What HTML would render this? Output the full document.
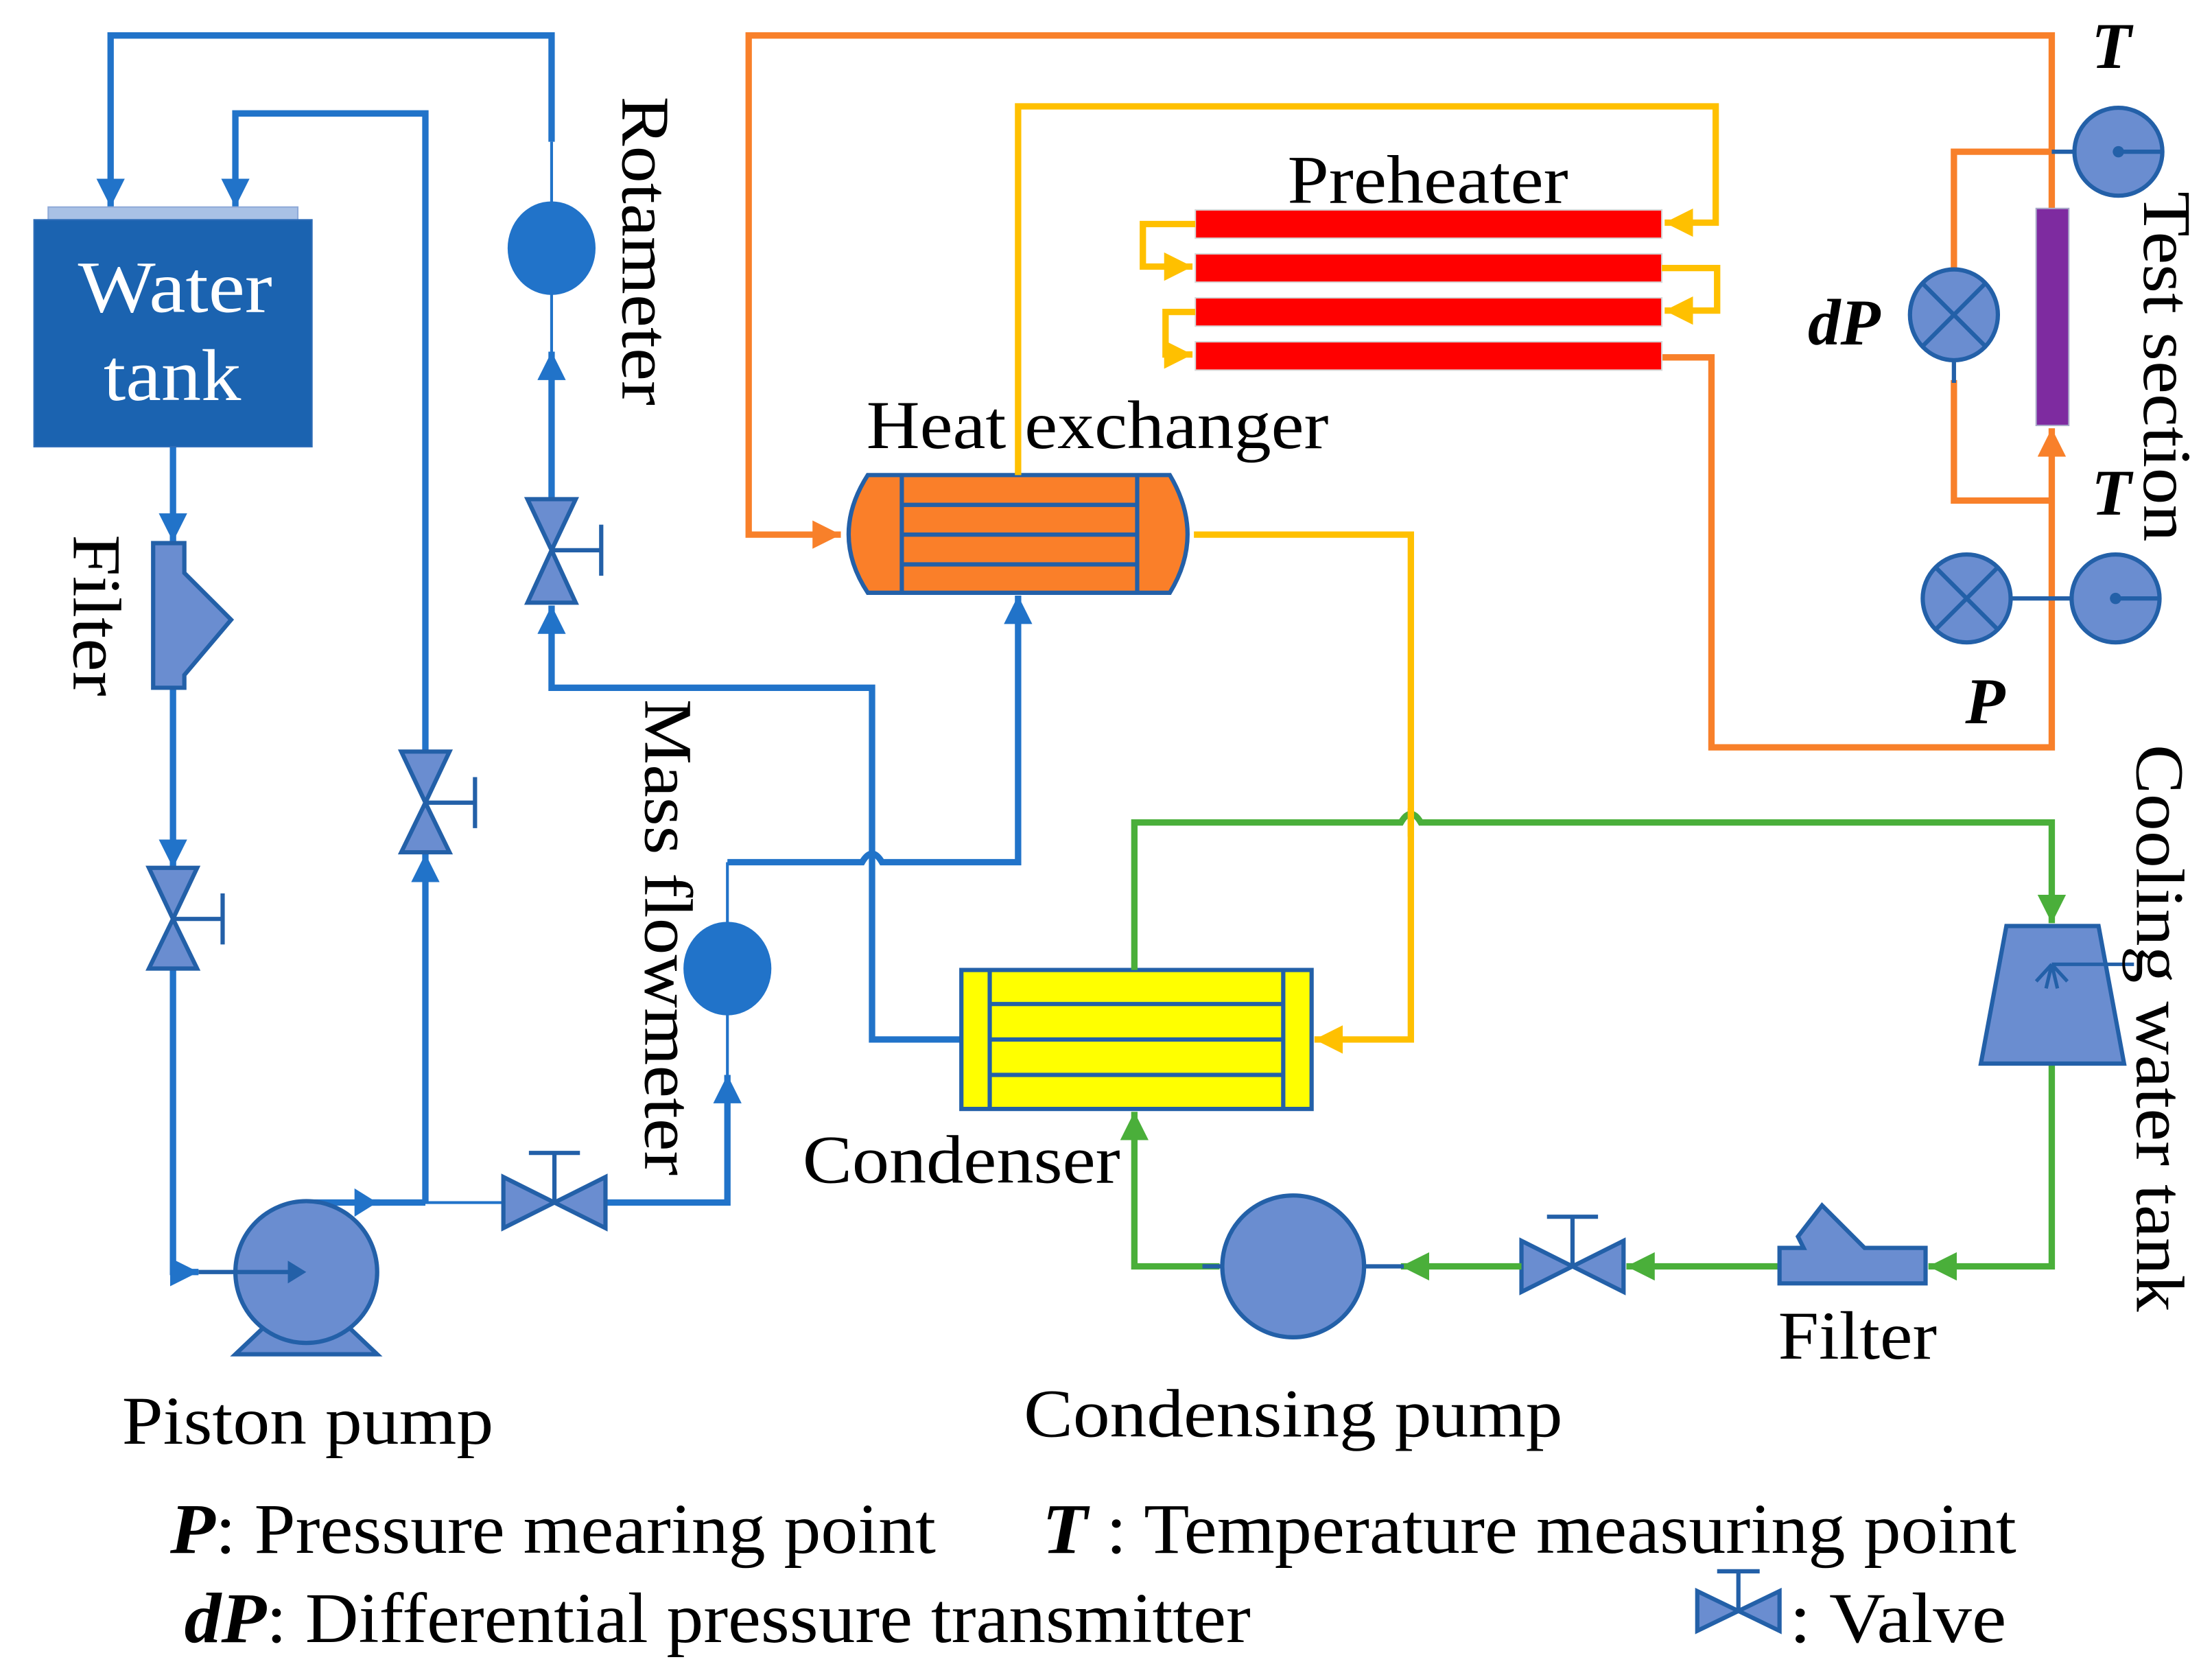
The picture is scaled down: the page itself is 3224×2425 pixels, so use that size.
<!DOCTYPE html>
<html><head><meta charset="utf-8"><style>
html,body{margin:0;padding:0;background:#fff;}
svg{display:block;}
text{font-family:"Liberation Serif",serif;fill:#000;}
</style></head><body>
<svg width="3224" height="2425" viewBox="0 0 1560 1173.4" xmlns="http://www.w3.org/2000/svg">
<defs>
<marker id="aB" markerUnits="userSpaceOnUse" markerWidth="24" markerHeight="24" refX="20" refY="10" orient="auto"><path d="M0,0 L20,10 L0,20 Z" fill="#2173C9"/></marker>
<marker id="aO" markerUnits="userSpaceOnUse" markerWidth="24" markerHeight="24" refX="20" refY="10" orient="auto"><path d="M0,0 L20,10 L0,20 Z" fill="#F8802A"/></marker>
<marker id="aY" markerUnits="userSpaceOnUse" markerWidth="24" markerHeight="24" refX="20" refY="10" orient="auto"><path d="M0,0 L20,10 L0,20 Z" fill="#FFC000"/></marker>
<marker id="aG" markerUnits="userSpaceOnUse" markerWidth="24" markerHeight="24" refX="20" refY="10" orient="auto"><path d="M0,0 L20,10 L0,20 Z" fill="#4AAF3A"/></marker>
</defs>

<g fill="none" stroke="#2173C9" stroke-width="4.5" stroke-linejoin="miter">
<path d="M389,100 L389,25 L78,25 L78,146" marker-end="url(#aB)"/>
<path d="M300,530 L300,80 L166,80 L166,146" marker-end="url(#aB)"/>
<path d="M122,315 L122,382" marker-end="url(#aB)"/>
<path d="M122,485 L122,612" marker-end="url(#aB)"/>
<path d="M122,683 L122,897 L140,897" marker-end="url(#aB)"/>
<path d="M300,848 L300,602" marker-end="url(#aB)"/>
<path d="M216,848 L268,848"/>
<path d="M262,848 L300,848"/>
<path d="M427,848 L513,848 L513,758" marker-end="url(#aB)"/>
<path d="M513,608 L608,608 Q615,596 622,608 L718,608 L718,420" marker-end="url(#aB)"/>
<path d="M389,352 L389,248" marker-end="url(#aB)"/>
<path d="M678,733 L615,733 L615,485 L389,485 L389,427" marker-end="url(#aB)"/>
</g>
<g fill="none" stroke="#2173C9" stroke-width="2">
<path d="M389,100 L389,145"/><path d="M389,205 L389,250"/>
<path d="M300,848 L355,848"/>
<path d="M513,608 L513,652"/><path d="M513,714 L513,760"/>
</g>
<path d="M250,838 L266,848 L250,858 Z" fill="#2173C9"/>

<rect x="34" y="146" width="176" height="10" fill="#A9C1E5" stroke="#8FAAD8" stroke-width="1"/>
<rect x="24" y="155" width="196" height="160" fill="#1B63B0" stroke="#2E6DB8" stroke-width="1"/>
<text x="55" y="220" font-size="52" textLength="137" lengthAdjust="spacingAndGlyphs" style="fill:#fff">Water</text>
<text x="73" y="282" font-size="52" textLength="97" lengthAdjust="spacingAndGlyphs" style="fill:#fff">tank</text>

<path d="M108,383 L130,383 L130,404 L163,437 L130,476 L130,485 L108,485 Z" fill="#6A8DD0" stroke="#2360A8" stroke-width="3"/>

<g fill="#6A8DD0" stroke="#2360A8" stroke-width="3" stroke-linejoin="miter">
<path d="M105,612 L139,612 L122,648 Z M105,683 L139,683 L122,648 Z"/>
<path d="M283,530 L317,530 L300,566 Z M283,601 L317,601 L300,566 Z"/>
<path d="M372,352 L406,352 L389,388 Z M372,425 L406,425 L389,388 Z"/>
<path d="M355,830 L355,866 L391,848 Z M427,830 L427,866 L391,848 Z"/>
<path d="M1073,875 L1073,911 L1109,893 Z M1145,875 L1145,911 L1109,893 Z"/>
</g>
<g fill="none" stroke="#2360A8" stroke-width="3">
<path d="M122,648 L157,648 M157,630 L157,666"/>
<path d="M300,566 L335,566 M335,548 L335,584"/>
<path d="M389,388 L424,388 M424,370 L424,406"/>
<path d="M391,848 L391,813 M373,813 L409,813"/>
<path d="M1109,893 L1109,858 M1091,858 L1127,858"/>
</g>

<ellipse cx="389" cy="175" rx="31" ry="33" fill="#2173C9"/>
<ellipse cx="513" cy="683" rx="31" ry="33" fill="#2173C9"/>

<path d="M166,955 L186,936 L246,936 L266,955 Z" fill="#6A8DD0" stroke="#2360A8" stroke-width="3"/>
<ellipse cx="216" cy="897" rx="50" ry="50" fill="#6A8DD0" stroke="#2360A8" stroke-width="3"/>
<path d="M140,897 L208,897" stroke="#2360A8" stroke-width="3"/>
<path d="M203,889 L216,897 L203,905 Z" fill="#2360A8"/>

<g fill="none" stroke="#F8802A" stroke-width="4.5">
<path d="M1447,147 L1447,25 L528,25 L528,377 L593,377" marker-end="url(#aO)"/>
<path d="M1172,252 L1207,252 L1207,527 L1447,527 L1447,302" marker-end="url(#aO)"/>
<path d="M1378,190 L1378,107 L1447,107"/>
<path d="M1378,268 L1378,353 L1447,353"/>
</g>
<path d="M1378,254 L1378,270" stroke="#2360A8" stroke-width="3"/>
<rect x="1436" y="147" width="23" height="153" fill="#7E2BA0" stroke="#A9A9C9" stroke-width="1"/>

<path d="M612,335 L825,335 Q850,377 825,418 L612,418 Q585,377 612,335 Z" fill="#FA7F29" stroke="#2360A8" stroke-width="3"/>
<g stroke="#2360A8" stroke-width="3" fill="none">
<path d="M636,335 L636,418 M802,335 L802,418 M636,356 L802,356 M636,377 L802,377 M636,398 L802,398"/>
</g>

<g fill="#FF0000" stroke="#D8D8D8" stroke-width="1">
<rect x="843" y="148" width="329" height="20"/>
<rect x="843" y="179" width="329" height="20"/>
<rect x="843" y="210" width="329" height="20"/>
<rect x="843" y="241" width="329" height="20"/>
</g>

<g fill="none" stroke="#FFC000" stroke-width="4.5">
<path d="M718,335 L718,75 L1210,75 L1210,157 L1174,157" marker-end="url(#aY)"/>
<path d="M843,158 L806,158 L806,188 L841,188" marker-end="url(#aY)"/>
<path d="M1172,189 L1211,189 L1211,219 L1174,219" marker-end="url(#aY)"/>
<path d="M843,220 L822,220 L822,250 L841,250" marker-end="url(#aY)"/>
<path d="M842,377 L995,377 L995,733 L927,733" marker-end="url(#aY)"/>
</g>

<rect x="678" y="684" width="247" height="98" fill="#FFFF00" stroke="#2360A8" stroke-width="3"/>
<path d="M698,684 L698,782 M905,684 L905,782 M698,708 L905,708 M698,733 L905,733 M698,758 L905,758" stroke="#2360A8" stroke-width="3" fill="none"/>

<g fill="none" stroke="#4AAF3A" stroke-width="4.5">
<path d="M800,684 L800,580 L988,580 Q995,568 1002,580 L1447,580 L1447,651" marker-end="url(#aG)"/>
<path d="M1447,750 L1447,893 L1360,893" marker-end="url(#aG)"/>
<path d="M1255,893 L1147,893" marker-end="url(#aG)"/>
<path d="M1073,893 L988,893" marker-end="url(#aG)"/>
<path d="M860,893 L800,893 L800,784" marker-end="url(#aG)"/>
</g>
<path d="M995,590 L995,570" stroke="#FFC000" stroke-width="4.5"/>

<path d="M1415,653 L1480,653 L1498,750 L1397,750 Z" fill="#6A8DD0" stroke="#2360A8" stroke-width="3"/>
<g stroke="#2360A8" stroke-width="2.5" fill="none">
<path d="M1505,680 L1447,680 M1447,680 L1436,692 M1447,680 L1443,697 M1447,680 L1451,697 M1447,680 L1458,692"/>
</g>

<path d="M1255,880 L1272,880 L1268,872 L1285,850 L1315,880 L1358,880 L1358,905 L1255,905 Z" fill="#6A8DD0" stroke="#2360A8" stroke-width="3"/>

<path d="M848,893 L862,893 M962,893 L990,893" stroke="#2360A8" stroke-width="3"/>
<ellipse cx="912" cy="893" rx="50" ry="50" fill="#6A8DD0" stroke="#2360A8" stroke-width="3"/>

<g fill="#6A8DD0" stroke="#2360A8" stroke-width="3">
<path d="M1447,107 L1466,107" fill="none"/>
<ellipse cx="1494" cy="107" rx="31" ry="31"/>
<ellipse cx="1378" cy="222" rx="31" ry="32"/>
<path d="M1409,422 L1462,422" fill="none"/>
<ellipse cx="1387" cy="422" rx="31" ry="31"/>
<ellipse cx="1492" cy="422" rx="31" ry="31"/>
</g>
<g stroke="#2360A8" stroke-width="3" fill="none">
<path d="M1494,107 L1524,107 M1356,200 L1400,244 M1400,200 L1356,244 M1365,400 L1409,444 M1409,400 L1365,444 M1492,422 L1522,422"/>
</g>
<circle cx="1494" cy="107" r="4" fill="#2360A8"/>
<circle cx="1492" cy="422" r="4" fill="#2360A8"/>

<g font-size="48">
<text x="908" y="143" textLength="198" lengthAdjust="spacingAndGlyphs">Preheater</text>
<text x="611" y="316" textLength="326" lengthAdjust="spacingAndGlyphs">Heat exchanger</text>
<text x="566" y="834" textLength="224" lengthAdjust="spacingAndGlyphs">Condenser</text>
<text x="86" y="1018" textLength="262" lengthAdjust="spacingAndGlyphs">Piston pump</text>
<text x="722" y="1013" textLength="380" lengthAdjust="spacingAndGlyphs">Condensing pump</text>
<text x="1254" y="958" textLength="112" lengthAdjust="spacingAndGlyphs">Filter</text>
<text transform="translate(439,68) rotate(90)" textLength="218" lengthAdjust="spacingAndGlyphs">Rotameter</text>
<text transform="translate(52,377) rotate(90)" textLength="114" lengthAdjust="spacingAndGlyphs">Filter</text>
<text transform="translate(455,493) rotate(90)" textLength="336" lengthAdjust="spacingAndGlyphs">Mass flowmeter</text>
<text transform="translate(1512,135) rotate(90)" textLength="247" lengthAdjust="spacingAndGlyphs">Test section</text>
<text transform="translate(1507,525) rotate(90)" textLength="400" lengthAdjust="spacingAndGlyphs">Cooling water tank</text>
</g>
<g font-size="46" font-style="italic" font-weight="bold">
<text x="1475" y="48">T</text>
<text x="1475" y="363">T</text>
<text x="1275" y="243">dP</text>
<text x="1386" y="510">P</text>
</g>
<g font-size="50">
<text x="120" y="1095" textLength="540" lengthAdjust="spacingAndGlyphs"><tspan font-style="italic" font-weight="bold">P</tspan>: Pressure mearing point</text>
<text x="735" y="1095" textLength="687" lengthAdjust="spacingAndGlyphs"><tspan font-style="italic" font-weight="bold">T</tspan> : Temperature measuring point</text>
<text x="130" y="1158" textLength="752" lengthAdjust="spacingAndGlyphs"><tspan font-style="italic" font-weight="bold">dP</tspan>: Differential pressure transmitter</text>
<text x="1262" y="1158" textLength="153" lengthAdjust="spacingAndGlyphs">: Valve</text>
</g>
<path d="M1197,1122 L1197,1150 L1226,1136 Z M1255,1122 L1255,1150 L1226,1136 Z" fill="#6A8DD0" stroke="#2360A8" stroke-width="3"/>
<path d="M1226,1136 L1226,1108 M1211,1108 L1241,1108" stroke="#2360A8" stroke-width="3" fill="none"/>
</svg>
</body></html>
